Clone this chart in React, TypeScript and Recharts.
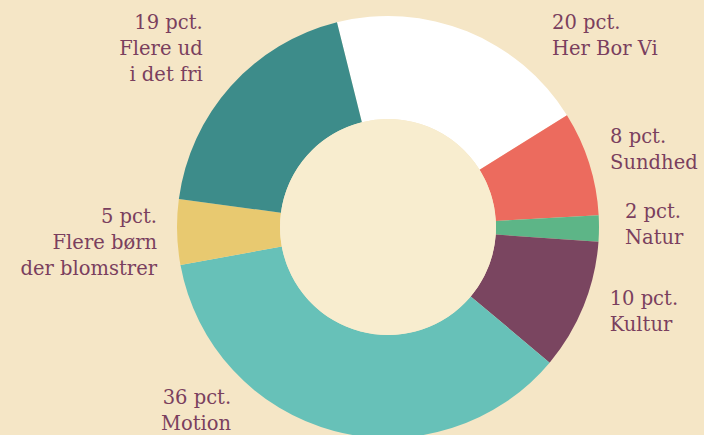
import { PieChart, Pie, Cell } from "recharts";

const categories = [
  ["Her Bor Vi"],
  ["Sundhed"],
  ["Natur"],
  ["Kultur"],
  ["Motion"],
  ["Flere børn", "der blomstrer"],
  ["Flere ud", "i det fri"],
];
const shares = [20, 8, 2, 10, 36, 5, 19];
const colors = ["#ffffff", "#ec6b5e", "#5db587", "#7a4560", "#67c1b8", "#e8c970", "#3d8c8a"];

const data = categories.map((lines, i) => ({ lines, value: shares[i] }));

const RADIAN = Math.PI / 180;
const TEXT = "#7a3f5e";

// label nudges from the rim point at each slice's middle
const nudges = [
  { dx: 85, dy: -2, anchor: "start" },
  { dx: 21, dy: -20, anchor: "start" },
  { dx: 26, dy: -10, anchor: "start" },
  { dx: 26, dy: -1, anchor: "start" },
  { dx: -103, dy: -27, anchor: "end" },
  { dx: -20, dy: -9, anchor: "end" },
  { dx: -28, dy: -57, anchor: "end" },
];

function SliceLabel(props: any) {
  const { cx, cy, midAngle, outerRadius, index } = props;
  const n = nudges[index];
  const x = cx + outerRadius * Math.cos(-midAngle * RADIAN) + n.dx;
  const y = cy + outerRadius * Math.sin(-midAngle * RADIAN) + n.dy;
  const lines = [`${shares[index]} pct.`, ...categories[index]];
  return (
    <text
      x={x}
      y={y}
      textAnchor={n.anchor}
      fill={TEXT}
      fontFamily="DejaVu Serif"
      fontSize={19.5}
    >
      {lines.map((l, i) => (
        <tspan key={i} x={x} dy={i === 0 ? 0 : 26}>
          {l}
        </tspan>
      ))}
    </text>
  );
}

export default function App() {
  return (
    <div
      style={{
        position: "absolute",
        left: 0,
        top: 0,
        width: 704,
        height: 435,
        background: "#f5e6c6",
        overflow: "hidden",
      }}
    >
      <PieChart width={704} height={435} margin={{ top: 0, right: 0, bottom: 0, left: 0 }}>
        <Pie
          data={data}
          dataKey="value"
          cx={388}
          cy={227}
          innerRadius={108}
          outerRadius={211}
          startAngle={104}
          endAngle={-256}
          stroke="none"
          label={SliceLabel}
          labelLine={false}
          isAnimationActive={false}
        >
          {data.map((_, i) => (
            <Cell key={i} fill={colors[i]} />
          ))}
        </Pie>
        <Pie
          data={[{ value: 1 }]}
          dataKey="value"
          cx={388}
          cy={227}
          innerRadius={0}
          outerRadius={108}
          fill="#f8edcf"
          stroke="none"
          isAnimationActive={false}
        />
      </PieChart>
    </div>
  );
}
